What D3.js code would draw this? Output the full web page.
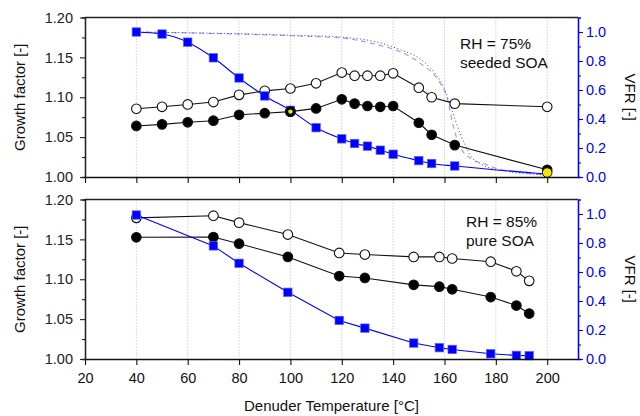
<!DOCTYPE html>
<html>
<head>
<meta charset="utf-8">
<script src="https://cdn.jsdelivr.net/npm/d3@7"></script>
<style>
  html, body { margin: 0; padding: 0; background: #fff; }
  svg { display: block; font-family: "Liberation Sans", Arial, sans-serif; }
</style>
</head>
<body>
<div id="chart"></div>
<script>
// ---- data ----
const xTicks = [20, 40, 60, 80, 100, 120, 140, 160, 180, 200];
const gfTicks = [1.00, 1.05, 1.10, 1.15, 1.20];
const gfMinor = [1.025, 1.075, 1.125, 1.175];
const vfrTicks = [0.0, 0.2, 0.4, 0.6, 0.8, 1.0];
const vfrMinor = [0.1, 0.3, 0.5, 0.7, 0.9];

// top panel: RH = 75%, seeded SOA
const topT = [40, 50, 60, 70, 80, 90, 100, 110, 120, 125, 130, 135, 140, 150, 155, 164, 200];
const topOpen = [1.0856, 1.088, 1.091, 1.094, 1.103, 1.108, 1.111, 1.1175, 1.131, 1.127, 1.127, 1.127, 1.130, 1.112, 1.100, 1.092, 1.088];
const topFilled = [1.064, 1.066, 1.0686, 1.0706, 1.078, 1.080, 1.082, 1.086, 1.0974, 1.092, 1.089, 1.088, 1.089, 1.068, 1.053, 1.040, 1.009];
const topVfr = [1.0, 0.986, 0.93, 0.822, 0.683, 0.559, 0.46, 0.34, 0.263, 0.231, 0.213, 0.185, 0.157, 0.113, 0.093, 0.076, 0.02];
const highlightT = [100, 200];
const highlightGF = [1.082, 1.0055];

// model curves (top panel)
const modelDashT = [40, 100, 120.5, 133.8, 140.8, 150.5, 158.3, 160.9, 163.5, 166.1, 171.3, 175.2, 180.4, 188.2, 200];
const modelDashVfr = [1.0, 0.974, 0.958, 0.912, 0.877, 0.785, 0.647, 0.554, 0.346, 0.208, 0.116, 0.093, 0.058, 0.035, 0.012];
const modelDotT = [40, 100, 120.5, 140.8, 154.4, 159.6, 162.9, 164.2, 166.1, 168.1, 170, 173.9, 181.7, 200];
const modelDotVfr = [1.0, 0.978, 0.964, 0.891, 0.753, 0.623, 0.462, 0.393, 0.30, 0.22, 0.15, 0.093, 0.046, 0.015];

// bottom panel: RH = 85%, pure SOA
const botT = [40, 70, 80, 99, 119, 129, 148, 158, 163, 178, 188, 193];
const botOpen = [1.177, 1.1797, 1.171, 1.156, 1.133, 1.131, 1.128, 1.128, 1.126, 1.122, 1.110, 1.098];
const botFilled = [1.1526, 1.153, 1.1446, 1.128, 1.104, 1.1016, 1.093, 1.0907, 1.0874, 1.0777, 1.067, 1.057];
const botVfr = [0.993, 0.78, 0.66, 0.46, 0.266, 0.213, 0.11, 0.078, 0.066, 0.036, 0.025, 0.023];

const W = 640, H = 416;
const left = 85, right = 578;
const BLUE = '#0000ff';

const svg = d3.select('#chart').append('svg')
  .attr('width', W)
  .attr('height', H);

const x = d3.scaleLinear().domain([20, 212]).range([left, right]);

function drawPanel(top, bottom, cfg) {
  const y = d3.scaleLinear().domain([1.0, 1.2]).range([bottom, top]);
  const yr = d3.scaleLinear().domain([0, 1.1]).range([bottom, top]);
  const g = svg.append('g');

  // vertical dotted grid
  g.selectAll('.grid').data(xTicks.slice(1))
    .enter().append('line')
    .attr('x1', d => x(d)).attr('x2', d => x(d))
    .attr('y1', top).attr('y2', bottom)
    .attr('stroke', '#a8a8a8')
    .attr('stroke-width', 0.8)
    .attr('stroke-dasharray', '1,2');

  // top frame line
  g.append('line')
    .attr('x1', left).attr('x2', right)
    .attr('y1', top).attr('y2', top)
    .attr('stroke', '#222').attr('stroke-width', 1.3);

  // model curves
  if (cfg.models) {
    const mk = (ts, vs) => ts.map((t, i) => [t, vs[i]]);
    const line = d3.line().x(d => x(d[0])).y(d => yr(d[1])).curve(d3.curveMonotoneX);
    g.append('path').datum(mk(modelDashT, modelDashVfr))
      .attr('d', line).attr('fill', 'none')
      .attr('stroke', '#9a9ae8').attr('stroke-width', 1.1)
      .attr('stroke-dasharray', '5,4');
    g.append('path').datum(mk(modelDotT, modelDotVfr))
      .attr('d', line).attr('fill', 'none')
      .attr('stroke', '#3535ee').attr('stroke-width', 1)
      .attr('stroke-dasharray', '1,2.5');
  }

  // growth factor series
  const gfLine = d3.line().x(d => x(d[0])).y(d => y(d[1]));
  [[cfg.open, '#fff'], [cfg.filled, '#000']].forEach(([vals, fill]) => {
    const pts = cfg.T.map((t, i) => [t, vals[i]]);
    g.append('path').datum(pts)
      .attr('d', gfLine).attr('fill', 'none')
      .attr('stroke', '#111').attr('stroke-width', 1.1);
    g.selectAll(null).data(pts)
      .enter().append('circle')
      .attr('cx', d => x(d[0])).attr('cy', d => y(d[1]))
      .attr('r', 4.8)
      .attr('fill', fill)
      .attr('stroke', '#111').attr('stroke-width', 1.1);
  });

  // VFR series
  const vpts = cfg.T.map((t, i) => [t, cfg.vfr[i]]);
  g.append('path').datum(vpts)
    .attr('d', d3.line().x(d => x(d[0])).y(d => yr(d[1]))
      .curve(cfg.smooth ? d3.curveMonotoneX : d3.curveLinear))
    .attr('fill', 'none')
    .attr('stroke', BLUE).attr('stroke-width', 1.1);
  const sq = 8.4;
  g.selectAll(null).data(cfg.highlight ? vpts.slice(0, -1) : vpts)
    .enter().append('rect')
    .attr('x', d => x(d[0]) - sq / 2).attr('y', d => yr(d[1]) - sq / 2)
    .attr('width', sq).attr('height', sq)
    .attr('fill', BLUE)
    .attr('stroke', '#5a5aff').attr('stroke-width', 0.7);

  // highlighted points (yellow) sit over the VFR squares
  if (cfg.highlight) {
    const hp = highlightT.map((t, i) => [t, highlightGF[i]]);
    // first one is mostly hidden behind a black marker
    g.append('circle')
      .attr('cx', x(hp[0][0])).attr('cy', y(hp[0][1]))
      .attr('r', 4.8).attr('fill', '#000')
      .attr('stroke', '#111').attr('stroke-width', 1.1);
    g.selectAll(null).data(hp)
      .enter().append('circle')
      .attr('cx', d => x(d[0])).attr('cy', d => y(d[1]))
      .attr('r', (d, i) => i === 0 ? 2.2 : 4.8)
      .attr('fill', '#f2e600')
      .attr('stroke', (d, i) => i === 0 ? 'none' : '#111')
      .attr('stroke-width', 1);
  }

  // axes
  const styleAxis = (sel, color) => {
    sel.selectAll('path').attr('stroke', color).attr('stroke-width', 1.3);
    sel.selectAll('line').attr('stroke', color).attr('stroke-width', 1.1);
    sel.selectAll('text').attr('fill', color)
      .style('font-size', '14.5px')
      .style('font-family', '"Liberation Sans", Arial, sans-serif');
  };

  const xa = g.append('g')
    .attr('transform', `translate(0,${bottom})`)
    .call(d3.axisBottom(x).tickValues(xTicks).tickSize(6).tickPadding(8)
      .tickSizeOuter(0)
      .tickFormat(cfg.xLabels ? d3.format('d') : () => ''));
  styleAxis(xa, '#111');

  const ya = g.append('g')
    .attr('transform', `translate(${left},0)`)
    .call(d3.axisLeft(y).tickValues(gfTicks).tickSize(5).tickPadding(7)
      .tickSizeOuter(0).tickFormat(d3.format('.2f')));
  styleAxis(ya, '#222');
  const ym = g.append('g')
    .attr('transform', `translate(${left},0)`)
    .call(d3.axisLeft(y).tickValues(gfMinor).tickSize(3).tickFormat(''));
  styleAxis(ym, '#222');

  const yra = g.append('g')
    .attr('transform', `translate(${right},0)`)
    .call(d3.axisRight(yr).tickValues(vfrTicks).tickSize(5).tickPadding(3)
      .tickSizeOuter(0).tickFormat(d3.format('.1f')));
  styleAxis(yra, BLUE);
  const yrm = g.append('g')
    .attr('transform', `translate(${right},0)`)
    .call(d3.axisRight(yr).tickValues(vfrMinor).tickSize(3).tickFormat(''));
  styleAxis(yrm, BLUE);

  // axis titles
  const mid = (top + bottom) / 2;
  g.append('text')
    .attr('transform', `translate(25,${mid}) rotate(-90)`)
    .attr('text-anchor', 'middle')
    .style('font-size', '15px')
    .attr('fill', '#111')
    .text('Growth factor [-]');
  g.append('text')
    .attr('transform', `translate(625,${mid}) rotate(90)`)
    .attr('text-anchor', 'middle')
    .style('font-size', '15px')
    .attr('fill', '#111')
    .text('VFR [-]');

  // annotation
  g.append('text')
    .attr('x', cfg.noteX).attr('y', top + cfg.noteDy)
    .style('font-size', '15.5px').attr('fill', '#111')
    .selectAll('tspan').data(cfg.note)
    .enter().append('tspan')
    .attr('x', cfg.noteX)
    .attr('dy', (d, i) => i === 0 ? 0 : 19)
    .text(d => d);
}

drawPanel(17.5, 177, {
  T: topT, open: topOpen, filled: topFilled, vfr: topVfr,
  models: true, highlight: true, xLabels: false, smooth: true,
  note: ['RH = 75%', 'seeded SOA'], noteX: 460, noteDy: 31
});

drawPanel(199.5, 359, {
  T: botT, open: botOpen, filled: botFilled, vfr: botVfr,
  models: false, highlight: false, xLabels: true, smooth: false,
  note: ['RH = 85%', 'pure SOA'], noteX: 466, noteDy: 27
});

svg.append('text')
  .attr('x', (left + right) / 2)
  .attr('y', 411)
  .attr('text-anchor', 'middle')
  .style('font-size', '15px')
  .attr('fill', '#111')
  .text('Denuder Temperature [°C]');
</script>
</body>
</html>
